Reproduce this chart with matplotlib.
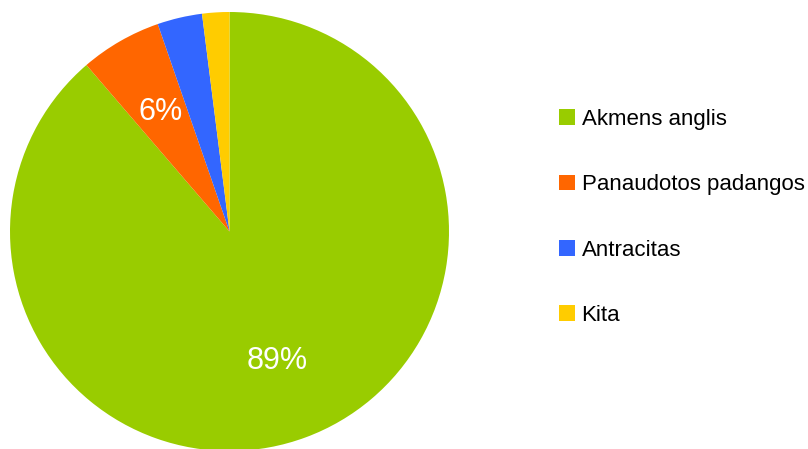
import matplotlib.pyplot as plt
from matplotlib.patches import Patch

plt.rcParams['font.family'] = ['Liberation Sans', 'DejaVu Sans']

# fuel shares, %
labels = ['Akmens anglis', 'Panaudotos padangos', 'Antracitas', 'Kita']
shares = [88.7, 6.0, 3.3, 2.0]
colors = ['#99cc00', '#ff6600', '#3366ff', '#ffcc00']


def pct_label(p):
    # small slices carry no label
    return '%.0f%%' % p if p >= 5 else ''


fig = plt.figure(figsize=(8.08, 4.49), dpi=100)
ax = fig.add_axes([10 / 808, -2 / 449, 439 / 808, 439 / 449])

wedges, texts, autotexts = ax.pie(shares, colors=colors, startangle=90, counterclock=False,
                                  autopct=pct_label, pctdistance=0.63, radius=1.0,
                                  wedgeprops=dict(linewidth=0))
for t in autotexts:
    t.set_color('white')
    t.set_fontsize(22)

ax.set_xlim(-1, 1)
ax.set_ylim(-1, 1)
ax.set_aspect('equal')
ax.axis('off')

handles = [Patch(facecolor=c, edgecolor='none') for c in colors]
fig.legend(handles, labels, loc='center left', bbox_to_anchor=(550 / 808, 0.5 + 7 / 449),
           frameon=False, fontsize=16, handlelength=0.72, handleheight=0.72,
           handletextpad=0.3, labelspacing=2.0, borderaxespad=0)

fig.savefig('out.png', dpi=100)
